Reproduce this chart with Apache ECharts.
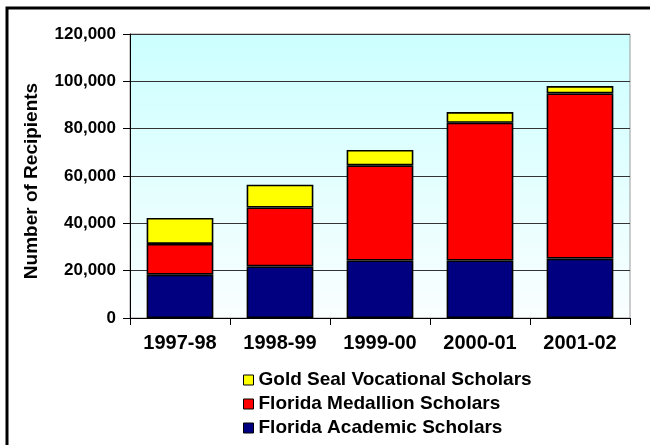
<!DOCTYPE html>
<html>
<head>
<meta charset="utf-8">
<script src="https://cdn.jsdelivr.net/npm/echarts@6/dist/echarts.min.js"></script>
<style>
  html, body { margin: 0; padding: 0; background: #fff; }
  #chart { width: 650px; height: 445px; }
</style>
</head>
<body>
<div id="chart"></div>
<script>
// School years shown along the horizontal axis
const years = ['1997-98', '1998-99', '1999-00', '2000-01', '2001-02'];

// Recipients per scholarship tier, stacked bottom to top
const academicScholars = [18300, 21800, 24300, 24300, 25100];
const medallionScholars = [13000, 24900, 40200, 58200, 69800];
const goldSealScholars = [10950, 9600, 6500, 4500, 3100];

// Value axis range
const axisMax = 120000;
const axisStep = 20000;

const FONT = '"Liberation Sans", Arial, sans-serif';

const chart = echarts.init(document.getElementById('chart'), null, { renderer: 'canvas' });

const barBorder = { borderColor: '#000', borderWidth: 1.6 };

chart.setOption({
  animation: false,
  backgroundColor: '#fff',
  textStyle: { fontFamily: FONT },
  grid: {
    left: 130, right: 20, top: 34, bottom: 127,
    show: true,
    borderColor: '#999',
    borderWidth: 1,
    backgroundColor: {
      type: 'linear', x: 0, y: 0, x2: 0, y2: 1,
      colorStops: [
        { offset: 0, color: '#ccffff' },
        { offset: 1, color: '#fafeff' }
      ]
    }
  },
  legend: {
    orient: 'vertical',
    left: 238,
    top: 365,
    itemWidth: 10,
    itemHeight: 10,
    itemGap: 4,
    icon: 'rect',
    itemStyle: { borderColor: '#000', borderWidth: 1 },
    textStyle: { fontFamily: FONT, fontWeight: 'bold', fontSize: 19, lineHeight: 20, color: '#000' },
    data: ['Gold Seal Vocational Scholars', 'Florida Medallion Scholars', 'Florida Academic Scholars']
  },
  xAxis: {
    type: 'category',
    data: years,
    axisLine: { lineStyle: { color: '#000', width: 1 } },
    axisTick: { show: true, length: 7, lineStyle: { color: '#000' } },
    axisLabel: { margin: 15, color: '#000', fontWeight: 'bold', fontSize: 20, fontFamily: FONT },
    splitLine: { show: false }
  },
  yAxis: {
    type: 'value',
    min: 0,
    max: axisMax,
    interval: axisStep,
    axisLine: { show: true, lineStyle: { color: '#000', width: 1 } },
    axisTick: { show: true, length: 7, lineStyle: { color: '#000' } },
    axisLabel: {
      margin: 14, color: '#000', fontWeight: 'bold', fontSize: 17, fontFamily: FONT,
      formatter: v => v.toLocaleString('en-US')
    },
    splitLine: { show: true, lineStyle: { color: '#333', width: 1 } }
  },
  series: [
    {
      name: 'Florida Academic Scholars', type: 'bar', stack: 'total',
      data: academicScholars, barWidth: '66.7%',
      itemStyle: Object.assign({ color: '#000080' }, barBorder)
    },
    {
      name: 'Florida Medallion Scholars', type: 'bar', stack: 'total',
      data: medallionScholars, barWidth: '66.7%',
      itemStyle: Object.assign({ color: '#ff0000' }, barBorder)
    },
    {
      name: 'Gold Seal Vocational Scholars', type: 'bar', stack: 'total',
      data: goldSealScholars, barWidth: '66.7%',
      itemStyle: Object.assign({ color: '#ffff00' }, barBorder)
    }
  ],
  graphic: [
    {
      type: 'text',
      x: 32, y: 181,
      rotation: Math.PI / 2,
      style: {
        text: 'Number of Recipients',
        fontFamily: FONT, fontWeight: 'bold', fontSize: 19,
        fill: '#000', textAlign: 'center', textVerticalAlign: 'middle'
      }
    },
    {
      type: 'rect',
      shape: { x: 7, y: 8, width: 700, height: 500 },
      style: { fill: 'none', stroke: '#000', lineWidth: 3 },
      silent: true
    }
  ]
});
</script>
</body>
</html>
